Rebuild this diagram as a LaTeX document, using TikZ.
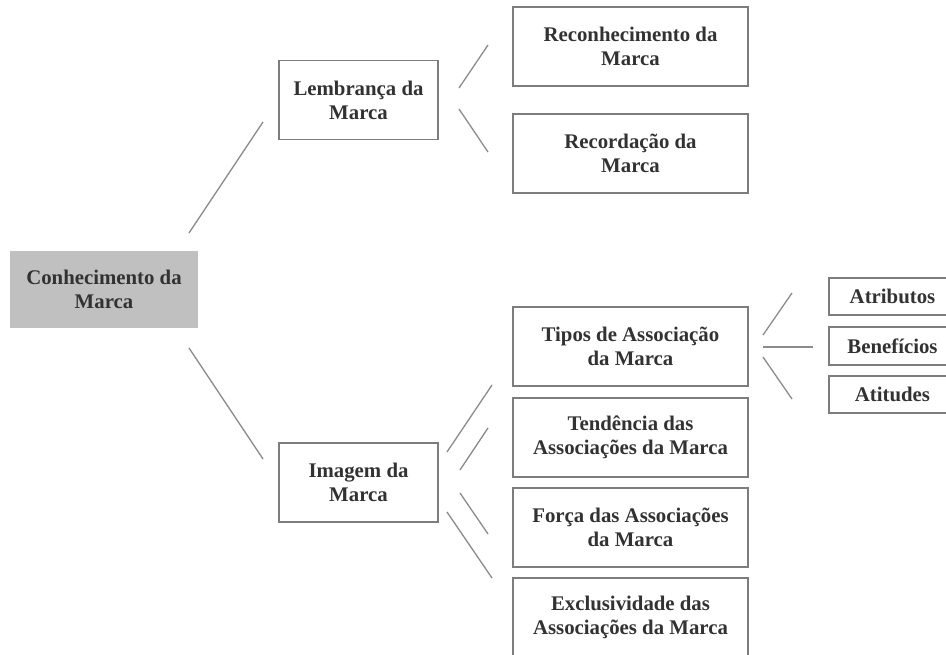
\documentclass[tikz,border=0pt]{standalone}
\usepackage{fontspec}
\setmainfont{Liberation Serif}
\definecolor{txt}{RGB}{50,50,50}
\definecolor{bord}{RGB}{125,125,125}
\definecolor{conn}{RGB}{140,140,140}
\definecolor{confill}{RGB}{192,192,192}
\begin{document}
\begin{tikzpicture}[x=1pt,y=-1pt,
  box/.style={draw=bord,line width=1.4pt,fill=white,align=center,text=txt,
    font=\bfseries\fontsize{20.8}{24}\selectfont,inner sep=0pt,
    minimum width=235pt,minimum height=79pt},
  midbox/.style={box,minimum width=159pt},
  smallbox/.style={box,minimum width=127pt,minimum height=37pt},
  rootbox/.style={box,draw=none,fill=confill,minimum width=188pt,minimum height=77pt},
  conn/.style={draw=conn,line width=1.3pt}]
\useasboundingbox (0,0) rectangle (946,654);
\clip (0,0) rectangle (946,654);
\fill[white] (0,0) rectangle (946,654);

\node[rootbox] (con) at (104,289.5) {Conhecimento da\\Marca};
\node[midbox] (lem) at (358.5,100) {Lembrança da\\Marca};
\node[midbox] (ima) at (358.5,482.5) {Imagem da\\Marca};
\node[box] (rec) at (630.5,46.5) {Reconhecimento da\\Marca};
\node[box] (rcd) at (630.5,153.5) {Recordação da\\Marca};
\node[box] (tip) at (630.5,346.5) {Tipos de Associação\\da Marca};
\node[box] (ten) at (630.5,437.5) {Tendência das\\Associações da Marca};
\node[box] (for) at (630.5,527.5) {Força das Associações\\da Marca};
\node[box] (exc) at (630.5,617.5) {Exclusividade das\\Associações da Marca};
\node[smallbox] (atr) at (892.5,296.5) {Atributos};
\node[smallbox,minimum height=38pt] (ben) at (892.5,346) {Benefícios};
\node[smallbox] (att) at (892.5,394.5) {Atitudes};

\coordinate (c1a) at (189,233); \coordinate (c1b) at (263,122);
\coordinate (c2a) at (189,348); \coordinate (c2b) at (263,459);
\coordinate (l1a) at (459,88);  \coordinate (l1b) at (488,45);
\coordinate (l2a) at (459,109); \coordinate (l2b) at (488,152);
\coordinate (i1a) at (447,452); \coordinate (i1b) at (492,385);
\coordinate (i2a) at (460,470); \coordinate (i2b) at (488,428);
\coordinate (i3a) at (460,493); \coordinate (i3b) at (488,534);
\coordinate (i4a) at (447,512); \coordinate (i4b) at (492,578);
\coordinate (t1a) at (763,335); \coordinate (t1b) at (792,293);
\coordinate (t2a) at (763,347); \coordinate (t2b) at (813,347);
\coordinate (t3a) at (763,357); \coordinate (t3b) at (792,399);

\foreach \c in {c1,c2,l1,l2,i1,i2,i3,i4,t1,t2,t3}
  \draw[conn] (\c a) -- (\c b);
\end{tikzpicture}
\end{document}
